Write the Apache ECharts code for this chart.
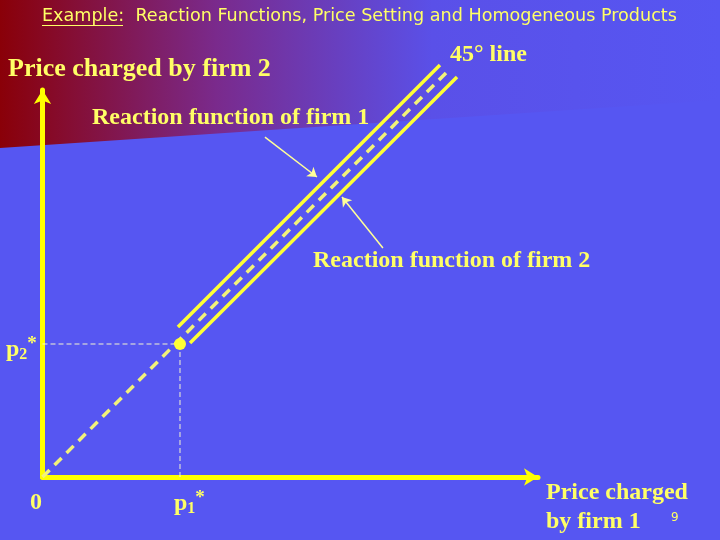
<!DOCTYPE html>
<html>
<head>
<meta charset="utf-8">
<script src="https://cdn.jsdelivr.net/npm/echarts@6/dist/echarts.min.js"></script>
<style>
  html, body { margin: 0; padding: 0; }
  #chart { width: 720px; height: 540px; }
</style>
</head>
<body>
<div id="chart"></div>
<script>
// equilibrium price, p1* = p2*
const pStar = 1;
// 45 degree line, dashed, from the origin
const line45 = [[0, 0], [2.956, 3.06]];
// reaction functions (just above / below the 45 degree line)
const reaction1 = [[0.985, 1.128], [2.891, 3.098]];
const reaction2 = [[1.073, 1.008], [3.015, 3.008]];
// guide arrows from the labels to the curves
const pointer1 = [[1.618, 2.556], [1.996, 2.256]];
const pointer2 = [[2.476, 1.722], [2.178, 2.105]];
const xMax = 3.604;
const yMax = 2.91;

const YEL = '#ffff00';
const TXT = '#ffff66';
const serif = 'Liberation Serif';
const big = 'bold 24px "' + serif + '"';

const chart = echarts.init(document.getElementById('chart'));

const option = {
  backgroundColor: '#5656f2',
  animation: false,
  grid: { left: 42.5, right: 182, top: 90, bottom: 63 },
  xAxis: {
    type: 'value', min: 0, max: xMax,
    axisLine: { symbol: ['none', 'arrow'], symbolSize: [13, 14], lineStyle: { color: YEL, width: 5 } },
    axisTick: { show: false }, axisLabel: { show: false }, splitLine: { show: false }
  },
  yAxis: {
    type: 'value', min: 0, max: yMax,
    axisLine: { symbol: ['none', 'arrow'], symbolSize: [13, 14], lineStyle: { color: YEL, width: 5 } },
    axisTick: { show: false }, axisLabel: { show: false }, splitLine: { show: false }
  },
  graphic: [
    {
      type: 'polygon', z: -10, silent: true,
      shape: { points: [[0, 0], [720, 0], [720, 100], [0, 148]] },
      style: {
        fill: new echarts.graphic.LinearGradient(0, 0, 1, 0, [
          { offset: 0, color: '#8a0008' },
          { offset: 0.3, color: '#7a2a8c' },
          { offset: 0.6, color: '#5a50e8' },
          { offset: 1, color: '#5656f2' }
        ])
      }
    },
    {
      type: 'text', x: 42, y: 16,
      style: {
        text: 'Example:  Reaction Functions, Price Setting and Homogeneous Products',
        font: '17.6px "DejaVu Sans", sans-serif',
        fill: TXT, verticalAlign: 'middle'
      }
    },
    { type: 'line', shape: { x1: 42, y1: 25.5, x2: 123, y2: 25.5 }, style: { stroke: TXT, lineWidth: 1.2 } },
    { type: 'text', x: 8, y: 69, style: { text: 'Price charged by firm 2', font: 'bold 26px "' + serif + '"', fill: TXT, verticalAlign: 'middle' } },
    { type: 'text', x: 450, y: 55, style: { text: '45° line', font: big, fill: TXT, verticalAlign: 'middle' } },
    { type: 'text', x: 92, y: 118, style: { text: 'Reaction function of firm 1', font: big, fill: TXT, verticalAlign: 'middle' } },
    { type: 'text', x: 313, y: 261, style: { text: 'Reaction function of firm 2', font: big, fill: TXT, verticalAlign: 'middle' } },
    { type: 'text', x: 546, y: 493, style: { text: 'Price charged', font: big, fill: TXT, verticalAlign: 'middle' } },
    { type: 'text', x: 546, y: 522, style: { text: 'by firm 1', font: big, fill: TXT, verticalAlign: 'middle' } },
    { type: 'text', x: 671, y: 518, style: { text: '9', font: '12px "DejaVu Sans", sans-serif', fill: TXT, verticalAlign: 'middle' } },
    { type: 'text', x: 30, y: 503, style: { text: '0', font: big, fill: TXT, verticalAlign: 'middle' } },
    {
      type: 'text', x: 6, y: 350,
      style: {
        text: '{p|p}{s|2}{u|*}', fill: TXT, verticalAlign: 'middle',
        rich: {
          p: { font: big, fill: TXT },
          s: { font: 'bold 16px "' + serif + '"', fill: TXT, padding: [9, 0, 0, 0] },
          u: { font: 'bold 19px "' + serif + '"', fill: TXT, padding: [0, 0, 11, 0] }
        }
      }
    },
    {
      type: 'text', x: 174, y: 504,
      style: {
        text: '{p|p}{s|1}{u|*}', fill: TXT, verticalAlign: 'middle',
        rich: {
          p: { font: big, fill: TXT },
          s: { font: 'bold 16px "' + serif + '"', fill: TXT, padding: [9, 0, 0, 0] },
          u: { font: 'bold 19px "' + serif + '"', fill: TXT, padding: [0, 0, 11, 0] }
        }
      }
    }
  ],
  series: [
    {
      type: 'line', data: [[0, pStar], [pStar, pStar]], symbol: 'none', silent: true,
      lineStyle: { color: '#f4f4d0', width: 1, type: [5, 3] }
    },
    {
      type: 'line', data: [[pStar, 0], [pStar, pStar]], symbol: 'none', silent: true,
      lineStyle: { color: '#f4f4d0', width: 1, type: [5, 3] }
    },
    {
      type: 'line', data: line45, symbol: 'none', clip: false, silent: true,
      lineStyle: { color: '#f2f27a', width: 3.5, type: [10, 7] }
    },
    {
      type: 'line', data: reaction1, symbol: 'none', clip: false, silent: true,
      lineStyle: { color: '#ffff33', width: 3.5 }
    },
    {
      type: 'line', data: reaction2, symbol: 'none', clip: false, silent: true,
      lineStyle: { color: '#ffff33', width: 3.5 }
    },
    {
      type: 'lines', coordinateSystem: 'cartesian2d', clip: false, silent: true,
      symbol: ['none', 'arrow'], symbolSize: 9,
      lineStyle: { color: '#ffff99', width: 1.5, opacity: 1 },
      data: [{ coords: pointer1 }, { coords: pointer2 }]
    },
    {
      type: 'scatter', data: [[pStar, pStar]], symbol: 'circle', symbolSize: 12, silent: true,
      itemStyle: { color: '#ffff33', opacity: 1 }, z: 5
    }
  ]
};

chart.setOption(option);
</script>
</body>
</html>
